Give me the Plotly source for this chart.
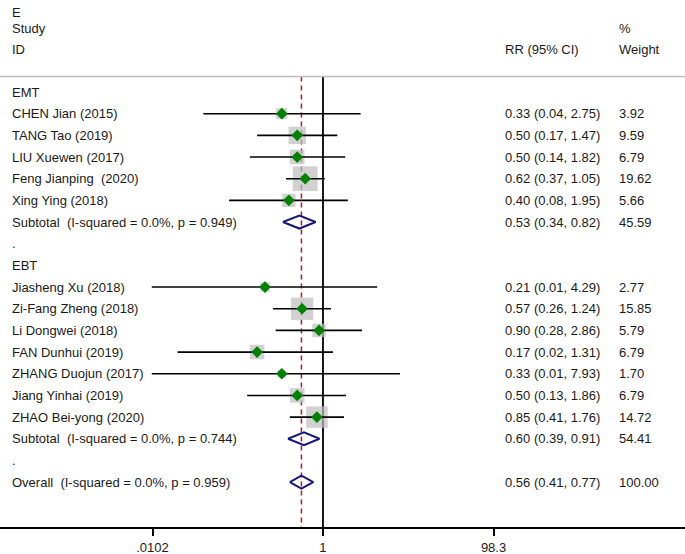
import plotly.graph_objects as go

# EMT group
emt_names = ["CHEN Jian (2015)", "TANG Tao (2019)", "LIU Xuewen (2017)",
             "Feng Jianping\u00a0 (2020)", "Xing Ying (2018)"]
emt_rr = [0.33, 0.50, 0.50, 0.62, 0.40]
emt_lo = [0.04, 0.17, 0.14, 0.37, 0.08]
emt_hi = [2.75, 1.47, 1.82, 1.05, 1.95]
emt_wt = [3.92, 9.59, 6.79, 19.62, 5.66]

# EBT group
ebt_names = ["Jiasheng Xu (2018)", "Zi-Fang Zheng (2018)", "Li Dongwei (2018)",
             "FAN Dunhui (2019)", "ZHANG Duojun (2017)", "Jiang Yinhai (2019)",
             "ZHAO Bei-yong (2020)"]
ebt_rr = [0.21, 0.57, 0.90, 0.17, 0.33, 0.50, 0.85]
ebt_lo = [0.01, 0.26, 0.28, 0.02, 0.01, 0.13, 0.41]
ebt_hi = [4.29, 1.24, 2.86, 1.31, 7.93, 1.86, 1.76]
ebt_wt = [2.77, 15.85, 5.79, 6.79, 1.70, 6.79, 14.72]

# pooled estimates: [rr, lo, hi, weight]
emt_sub = [0.53, 0.34, 0.82, 45.59]
ebt_sub = [0.60, 0.39, 0.91, 54.41]
overall = [0.56, 0.41, 0.77, 100.00]
emt_het = "Subtotal\u00a0 (I-squared = 0.0%, p = 0.949)"
ebt_het = "Subtotal\u00a0 (I-squared = 0.0%, p = 0.744)"
overall_het = "Overall\u00a0 (I-squared = 0.0%, p = 0.959)"

tick_vals = [0.0102, 1, 98.3]
tick_text = [".0102", "1", "98.3"]

FONT = "Liberation Sans, Arial, sans-serif"
TXT = "#1a1a1a"
X_NAME, X_RR, X_WT = 10 / 685, 503 / 685, 617 / 685

fig = go.Figure()
annotations = []


def label(x, y, text):
    annotations.append(dict(x=x, y=y, xref="paper", yref="y", text=text,
                            showarrow=False, xanchor="left", yanchor="middle",
                            font=dict(family=FONT, size=13, color=TXT)))


def fmt(rr, lo, hi):
    return f"{rr:.2f} ({lo:.2f}, {hi:.2f})"


# reference lines (drawn first so markers sit above)
y_top, y_bot = -0.715, 20.07
fig.add_trace(go.Scatter(x=[overall[0], overall[0]], y=[y_top, y_bot], mode="lines",
                         line=dict(color="rgb(170,30,40)", width=1.5, dash="5px,4px"),
                         hoverinfo="skip"))
fig.add_trace(go.Scatter(x=[1, 1], y=[y_top, y_bot], mode="lines",
                         line=dict(color="black", width=1.8), hoverinfo="skip"))

rows = []  # (row, name, rr, lo, hi, wt)
pooled = []  # (row, label, [rr, lo, hi, wt])
r = 0
for grp, names, rr, lo, hi, wt, sub, het in [
        ("EMT", emt_names, emt_rr, emt_lo, emt_hi, emt_wt, emt_sub, emt_het),
        ("EBT", ebt_names, ebt_rr, ebt_lo, ebt_hi, ebt_wt, ebt_sub, ebt_het)]:
    label(X_NAME, r, grp)
    r += 1
    for i in range(len(names)):
        rows.append((r, names[i], rr[i], lo[i], hi[i], wt[i]))
        r += 1
    pooled.append((r, het, sub))
    r += 1
    label(X_NAME, r, ".")
    r += 1
pooled.append((r, overall_het, overall))

# weight boxes
fig.add_trace(go.Scatter(
    x=[s[2] for s in rows], y=[s[0] for s in rows], mode="markers",
    marker=dict(symbol="square", color="rgb(190,190,190)",
                size=[5.6 * s[5] ** 0.5 for s in rows], line=dict(width=0)),
    hoverinfo="skip"))

# confidence intervals
for row, name, rr, lo, hi, wt in rows:
    fig.add_trace(go.Scatter(x=[lo, hi], y=[row, row], mode="lines",
                             line=dict(color="black", width=1.6), hoverinfo="skip"))
    label(X_NAME, row, name)
    label(X_RR, row, fmt(rr, lo, hi))
    label(X_WT, row, f"{wt:.2f}")

# point estimates
fig.add_trace(go.Scatter(
    x=[s[2] for s in rows], y=[s[0] for s in rows], mode="markers",
    marker=dict(symbol="diamond", color="rgb(0,128,0)", size=9, line=dict(width=0)),
    hoverinfo="skip"))

# pooled diamonds
for row, text, (rr, lo, hi, wt) in pooled:
    fig.add_trace(go.Scatter(x=[lo, rr, hi, rr, lo], y=[row, row - 0.3, row, row + 0.3, row],
                             mode="lines", line=dict(color="rgb(25,25,120)", width=2),
                             hoverinfo="skip"))
    label(X_NAME, row, text)
    label(X_RR, row, fmt(rr, lo, hi))
    label(X_WT, row, f"{wt:.2f}")

# header
label(X_NAME, -3.69, "E")
label(X_NAME, -2.91, "Study")
label(X_NAME, -1.98, "ID")
label(X_RR, -1.98, "RR (95% CI)")
label(X_WT, -2.91, "%")
label(X_WT, -1.98, "Weight")

fig.update_layout(
    width=685, height=554,
    margin=dict(l=0, r=0, t=0, b=27),
    paper_bgcolor="white", plot_bgcolor="white",
    showlegend=False,
    annotations=annotations,
    shapes=[dict(type="line", xref="paper", yref="y", x0=0, x1=1, y0=y_top, y1=y_top,
                 line=dict(color="rgb(190,190,190)", width=1.5))],
    xaxis=dict(type="log", range=[-3.773, 4.229], tickvals=tick_vals, ticktext=tick_text,
               ticks="outside", ticklen=7, tickwidth=1.5, tickcolor="black",
               showline=True, linecolor="black", linewidth=2,
               showgrid=False, zeroline=False,
               tickfont=dict(family=FONT, size=13, color=TXT)),
    yaxis=dict(range=[20.07, -4.245], visible=False),
)

fig.write_html("out.html", config={"displayModeBar": False},
               post_script="document.body.style.margin='0';")
